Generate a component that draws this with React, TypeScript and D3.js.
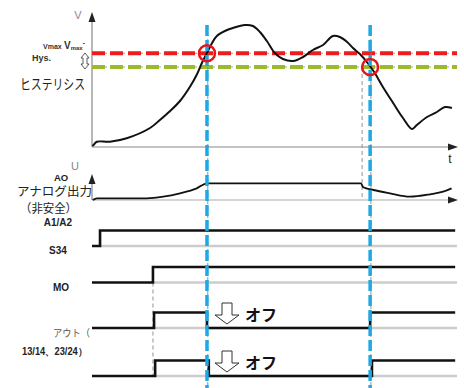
import React from 'react';
import * as d3 from 'd3';

// 電圧カーブ (t: 0..100, v: 0..100)
const voltT = [0.1, 0.4, 1.3, 4.9, 9.5, 15.9, 18.6, 21.4, 24.1, 26.8, 28.8, 30.1, 31.5, 32.9, 34.2, 36.4, 38.6, 41.9, 44.1, 46, 47.9, 50.1, 52.3, 55.1, 57.8, 60.5, 63.3, 66, 67.9, 69.9, 71.5, 73.4, 75.3, 77.3, 79.7, 82.5, 85.2, 87.7, 89, 91.8, 94.5, 96.7, 98.6];
const voltV = [0.8, 1.6, 4.2, 4.2, 7, 15.2, 21.6, 28.8, 36.8, 48, 58.4, 67.2, 75.2, 83.2, 88.8, 92.8, 95.2, 97.6, 96.8, 92, 84.8, 75.2, 70.4, 68.8, 72, 77.6, 81.6, 88.8, 88, 84, 79.2, 74.4, 68, 60, 48, 35.2, 23.2, 14.4, 17.6, 24, 28, 32, 31.2];

// アナログ出力 (t, u: 0..25)
const aoT = [0.2, 1.3, 10.4, 15, 19.5, 24.1, 28.7, 31.5, 73.7, 74.3, 77.1, 81.6, 87.1, 92.6, 96.2, 98.5];
const aoU = [0, 1.7, 1.7, 1.7, 3.3, 6.7, 11.7, 16.7, 16.7, 12.7, 10, 6.7, 3.3, 5.7, 8.3, 11.7];

const vMax = 75;
const vHys = 64;
const switchOff = 31.5;
const switchOn = 76.2;
const aoDrop = 74;
const moStep = 16.7;

// デジタル信号 [t, 状態]
const s34Steps: [number, number][] = [[0, 0], [2.2, 1], [99.5, 1]];
const moSteps: [number, number][] = [[0, 0], [16.7, 1], [99.5, 1]];
const out1Steps: [number, number][] = [[0, 0], [17, 1], [31.5, 0], [76.2, 1], [99.5, 1]];
const out2Steps: [number, number][] = [[0, 0], [17.3, 1], [32, 0], [76.7, 1], [99.5, 1]];
const signalRows = ['S34', 'MO', 'OUT1', 'OUT2'];

const W = 464;
const H = 388;
const JP = '"Noto Sans CJK JP", "Noto Sans", sans-serif';
const SANS = '"Liberation Sans", Arial, sans-serif';

export default function App() {
  const x = d3.scaleLinear().domain([0, 100]).range([92, 457]);
  const yV = d3.scaleLinear().domain([0, 100]).range([147, 22]);
  const yU = d3.scaleLinear().domain([0, 25]).range([200, 175]);
  const rowLow = d3.scaleOrdinal<string, number>().domain(signalRows).range([246, 282.5, 328, 376]);
  const stepH = 15.5;

  const voltLine = d3.line<number>()
    .x((_, i) => x(voltT[i]))
    .y((d) => yV(d))
    .curve(d3.curveCatmullRom.alpha(0.5));
  const aoLine = d3.line<number>()
    .x((_, i) => x(aoT[i]))
    .y((d) => yU(d))
    .curve(d3.curveMonotoneX);

  const sigPath = (row: string, steps: [number, number][]) =>
    d3.line<[number, number]>()
      .x((d) => x(d[0]))
      .y((d) => rowLow(row) - d[1] * stepH)
      .curve(d3.curveStepAfter)(steps) || '';

  const signals: [string, [number, number][]][] = [
    ['S34', s34Steps], ['MO', moSteps], ['OUT1', out1Steps], ['OUT2', out2Steps],
  ];

  const arrowUp = (cx: number, tip: number) => `M${cx},${tip} L${cx - 3.5},${tip + 10} L${cx + 3.5},${tip + 10} Z`;
  const arrowRight = (tip: number, cy: number) => `M${tip},${cy} L${tip - 10},${cy - 3.5} L${tip - 10},${cy + 3.5} Z`;

  // 白抜き下矢印
  const hollowDown = (cx: number, top: number) =>
    `M${cx - 5},${top} L${cx + 5},${top} L${cx + 5},${top + 12} L${cx + 12},${top + 12} L${cx},${top + 21} L${cx - 12},${top + 12} L${cx - 5},${top + 12} Z`;

  return (
    <svg width={W} height={H} style={{ position: 'absolute', left: 0, top: 0, background: '#fff' }}>
      {/* V 軸 */}
      <line x1={x(0)} x2={x(0)} y1={yV(0)} y2={18} stroke="#888" strokeWidth={1.2} />
      <path d={arrowUp(x(0), 12)} fill="#222" />
      <line x1={x(0)} x2={452} y1={yV(0)} y2={yV(0)} stroke="#888" strokeWidth={1.2} />
      <path d={arrowRight(458, yV(0))} fill="#222" />
      <text x={78} y={19} fontFamily={SANS} fontSize={11} fill="#888" textAnchor="middle">V</text>
      <text x={450} y={163} fontFamily={SANS} fontSize={12} fill="#222" textAnchor="middle">t</text>

      {/* しきい値ライン */}
      <line x1={x(0)} x2={x(100)} y1={yV(vMax)} y2={yV(vMax)} stroke="#888" strokeWidth={0.8} strokeDasharray="3,3" />
      <line x1={x(0)} x2={x(100)} y1={yV(vHys)} y2={yV(vHys)} stroke="#888" strokeWidth={0.8} strokeDasharray="3,3" />
      <line x1={x(0)} x2={x(100)} y1={yV(vMax)} y2={yV(vMax)} stroke="#ee1c1c" strokeWidth={4} strokeDasharray="13,5" />
      <line x1={x(0)} x2={x(100)} y1={yV(vHys)} y2={yV(vHys)} stroke="#9bbb2c" strokeWidth={4} strokeDasharray="13,5" />

      {/* 左ラベル */}
      <text x={43} y={49} fontFamily={SANS} fontSize={7} fontWeight="bold" fill="#333">Vmax</text>
      <text x={64} y={49} fontFamily={SANS} fontSize={10} fontWeight="bold" fill="#333">V<tspan fontSize={6} dy={1}>max</tspan><tspan dy={-5} fontSize={7}>-</tspan></text>
      <text x={32} y={61} fontFamily={SANS} fontSize={9} fontWeight="bold" fill="#333">Hys.</text>
      <path d="M85,53 L89,58 L87,58 L87,64 L89,64 L85,69 L81,64 L83,64 L83,58 L81,58 Z" fill="#fff" stroke="#333" strokeWidth={0.8} />
      <text x={20} y={89} fontFamily={JP} fontSize={14} fill="#222" textLength={65} lengthAdjust="spacingAndGlyphs">ヒステリシス</text>

      {/* 灰色の補助線 */}
      <line x1={x(aoDrop)} x2={x(aoDrop)} y1={yV(vHys)} y2={yU(0)} stroke="#888" strokeWidth={0.9} strokeDasharray="4,3" />
      <line x1={x(moStep)} x2={x(moStep)} y1={rowLow('MO')} y2={rowLow('OUT2')} stroke="#888" strokeWidth={0.9} strokeDasharray="4,3" />
      {[switchOff, switchOn].map((t) => (
        <line key={'g' + t} x1={x(t) + 0.8} x2={x(t) + 0.8} y1={25} y2={386} stroke="#888" strokeWidth={0.9} strokeDasharray="4,3" />
      ))}

      {/* 電圧カーブ */}
      <path d={voltLine(voltV) || ''} fill="none" stroke="#111" strokeWidth={2} />

      {/* アナログ出力 */}
      <line x1={x(0)} x2={x(0)} y1={yU(0)} y2={180} stroke="#888" strokeWidth={1.2} />
      <path d={arrowUp(x(0), 174)} fill="#222" />
      <line x1={x(0)} x2={452} y1={yU(0)} y2={yU(0)} stroke="#aaa" strokeWidth={1.2} />
      <path d={arrowRight(458, yU(0))} fill="#222" />
      <path d={aoLine(aoU) || ''} fill="none" stroke="#111" strokeWidth={1.8} />
      <text x={75} y={170} fontFamily={SANS} fontSize={11} fill="#888" textAnchor="middle">U</text>
      <text x={61} y={181} fontFamily={SANS} fontSize={9.5} fontWeight="bold" fill="#222" textAnchor="middle">AO</text>
      <text x={17} y={196} fontFamily={JP} fontSize={12} fill="#222" textLength={75} lengthAdjust="spacingAndGlyphs">アナログ出力</text>
      <text x={20} y={213} fontFamily={JP} fontSize={12} fill="#222" textLength={57} lengthAdjust="spacingAndGlyphs">（非安全）</text>

      {/* デジタル信号 */}
      {signals.map(([row, steps]) => (
        <line key={'base' + row} x1={x(steps[1][0])} x2={x(100)} y1={rowLow(row)} y2={rowLow(row)} stroke="#ccc" strokeWidth={2.5} />
      ))}
      {signals.map(([row, steps]) => (
        <path key={'sig' + row} d={sigPath(row, steps)} fill="none" stroke="#111" strokeWidth={2.6} />
      ))}
      <text x={58} y={226} fontFamily={SANS} fontSize={10} fontWeight="bold" fill="#222" textAnchor="middle">A1/A2</text>
      <text x={58} y={254} fontFamily={SANS} fontSize={10} fontWeight="bold" fill="#222" textAnchor="middle">S34</text>
      <text x={61} y={291} fontFamily={SANS} fontSize={10} fontWeight="bold" fill="#222" textAnchor="middle">MO</text>
      <text x={53} y={337} fontFamily={JP} fontSize={10} fill="#555" textLength={37} lengthAdjust="spacingAndGlyphs">アウト（</text>
      <text x={22} y={355} fontFamily={SANS} fontSize={10} fontWeight="bold" fill="#222" textLength={65} lengthAdjust="spacingAndGlyphs">13/14、23/24）</text>

      {/* 青い切替ライン */}
      {[switchOff, switchOn].map((t) => (
        <line key={'b' + t} x1={x(t)} x2={x(t)} y1={25} y2={388} stroke="#1fa8e3" strokeWidth={3.5} strokeDasharray="11,4" />
      ))}

      {/* 交点の赤丸 */}
      <circle cx={x(switchOff)} cy={yV(vMax)} r={8} fill="none" stroke="#e8141b" strokeWidth={2.5} />
      <circle cx={x(switchOn)} cy={yV(vHys)} r={8} fill="none" stroke="#e8141b" strokeWidth={2.5} />

      {/* オフ 表示 */}
      {['OUT1', 'OUT2'].map((row) => (
        <g key={'off' + row}>
          <path d={hollowDown(227, rowLow(row) - 25)} fill="#fff" stroke="#333" strokeWidth={1} />
          <text x={245} y={rowLow(row) - 7} fontFamily={JP} fontSize={16} fontWeight="bold" fill="#111">オフ</text>
        </g>
      ))}
    </svg>
  );
}
